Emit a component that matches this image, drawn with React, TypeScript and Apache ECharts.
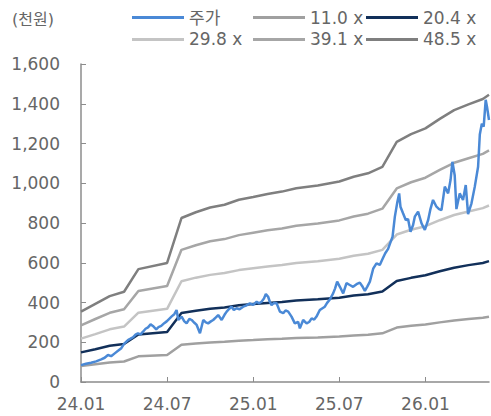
import React, { useEffect, useRef } from "react";
import * as echarts from "echarts";

// x positions are months since 2024-01
const xTickLabels = ["24.01", "24.07", "25.01", "25.07", "26.01"];
const yTickLabels = ["0", "200", "400", "600", "800", "1,000", "1,200", "1,400", "1,600"];

const bandMonths = [0, 1, 2, 3, 4, 6, 7, 8, 9, 10, 11, 12, 13, 14, 15, 16.5, 18, 19, 20, 21, 22, 23, 24, 25, 26, 27, 28, 28.43];
const band11 = [80, 89, 98, 103, 129, 136, 187, 194, 199, 202, 208, 211, 215, 217, 221, 224, 229, 234, 238, 245, 274, 283, 289, 300, 310, 317, 323, 328];
const band20 = [149, 165, 182, 191, 239, 252, 347, 359, 369, 375, 386, 392, 398, 403, 410, 416, 424, 435, 442, 455, 508, 524, 537, 557, 575, 588, 599, 608];
const band29 = [218, 241, 265, 279, 349, 368, 507, 525, 539, 548, 563, 572, 581, 589, 599, 608, 620, 635, 645, 665, 742, 766, 784, 814, 840, 858, 875, 888];
const band39 = [285, 317, 348, 366, 458, 483, 665, 688, 708, 719, 739, 751, 763, 772, 786, 798, 813, 833, 847, 872, 974, 1005, 1028, 1067, 1103, 1126, 1148, 1165];
const band48 = [354, 393, 432, 454, 568, 599, 825, 854, 878, 892, 917, 931, 946, 958, 975, 989, 1009, 1033, 1050, 1082, 1208, 1247, 1276, 1324, 1368, 1397, 1424, 1445];

const priceMonths = [
  0.0, 0.35, 0.7, 1.05, 1.41, 1.65, 1.88, 2.1, 2.35, 2.6, 2.81, 3.0, 3.27, 3.45, 3.62, 3.8, 3.97, 4.15, 4.32, 4.5, 4.67, 4.85, 5.01, 5.24, 5.4, 5.59, 5.8,
  5.97, 6.15, 6.32, 6.5, 6.66, 6.78, 7.01, 7.2, 7.36, 7.55, 7.71, 7.9, 8.06, 8.29, 8.52, 8.7, 8.86, 9.05, 9.21, 9.4, 9.56, 9.8, 10.0, 10.15,
  10.3, 10.49, 10.65, 10.84, 11.05, 11.3, 11.5, 11.77, 12.0, 12.24, 12.4, 12.58, 12.75, 12.88, 13.04, 13.15, 13.28, 13.45, 13.63, 13.86, 14.09,
  14.25, 14.44, 14.67, 14.9, 15.13, 15.25, 15.48, 15.72, 15.9, 16.07, 16.25, 16.41, 16.64, 16.8, 16.99, 17.15, 17.34, 17.57, 17.7, 17.85, 18.04,
  18.27, 18.5, 18.73, 18.96, 19.2, 19.43, 19.6, 19.78, 19.95, 20.13, 20.36, 20.59, 20.82, 21.05, 21.2, 21.4, 21.55, 21.71, 21.87, 22.03, 22.17,
  22.26, 22.44, 22.63, 22.79, 22.96, 23.14, 23.26, 23.49, 23.73, 23.96, 24.19, 24.35, 24.53, 24.77, 24.95, 25.12, 25.35, 25.58, 25.75, 25.88,
  26.04, 26.16, 26.39, 26.62, 26.81, 26.97, 27.21, 27.44, 27.67, 27.79, 27.93, 28.06, 28.2, 28.29, 28.43,
];
const priceValues = [
  85, 92, 97, 104, 114, 122, 136, 130, 144, 158, 170, 192, 211, 218, 225, 238, 245, 240, 253, 268, 275, 290, 282, 265, 276, 282, 296,
  305, 318, 330, 341, 362, 312, 329, 305, 295, 318, 312, 298, 287, 245, 312, 300, 295, 305, 312, 325, 337, 312, 338, 354,
  366, 379, 362, 371, 366, 379, 384, 396, 388, 404, 396, 404, 420, 443, 429, 405, 387, 398, 396, 354, 346,
  360, 354, 329, 295, 303, 270, 312, 295, 302, 320, 314, 329, 362, 370, 379, 398, 415, 446, 470, 505, 479,
  446, 497, 488, 479, 492, 500, 482, 458, 480, 505, 570, 597, 589, 625, 648, 670, 700, 731, 832, 900, 949,
  882, 849, 815, 820, 756, 790, 832, 857, 798, 765, 815, 870, 916, 882, 870, 865, 983, 949, 1016, 1108,
  1040, 870, 949, 916, 991, 845, 899, 983, 1083, 1245, 1300, 1285, 1420, 1385, 1318,
];

const FONT = "'DejaVu Sans', 'Noto Sans CJK KR', sans-serif";
const TXT = "#666666";

export default function App() {
  const ref = useRef<HTMLDivElement>(null);
  useEffect(() => {
    if (!ref.current) return;
    const chart = echarts.init(ref.current, null, { renderer: "svg" });
    const pair = (xs: number[], ys: number[]) => xs.map((x, i) => [x, ys[i]]);
    const mk = (name: string, xs: number[], ys: number[], color: string, width = 2.5, z = 2) => ({
      name,
      type: "line",
      data: pair(xs, ys),
      symbol: "none",
      showSymbol: false,
      z,
      lineStyle: { color, width },
      itemStyle: { color },
    });
    const legendBase = {
      orient: "vertical",
      top: 4,
      icon: "rect",
      itemWidth: 52,
      itemHeight: 3,
      itemGap: 5,
      textStyle: { fontSize: 17, color: TXT, fontFamily: FONT },
    };
    chart.setOption({
      animation: false,
      textStyle: { fontFamily: FONT },
      grid: { left: 81, right: 2, top: 64, bottom: 34, containLabel: false },
      legend: [
        { ...legendBase, left: 127, data: ["주가", "29.8 x"] },
        { ...legendBase, left: 248, data: ["11.0 x", "39.1 x"] },
        { ...legendBase, left: 361, data: ["20.4 x", "48.5 x"] },
      ],
      graphic: [
        {
          type: "text",
          left: 12,
          top: 11,
          style: { text: "(천원)", fontSize: 16, fill: TXT, fontFamily: FONT },
        },
      ],
      xAxis: {
        type: "value",
        min: 0,
        max: 28.43,
        interval: 6,
        axisLine: { lineStyle: { color: "#8c8c8c", width: 1.5 } },
        axisTick: { inside: true, length: 5, lineStyle: { color: "#8c8c8c" } },
        splitLine: { show: false },
        axisLabel: {
          showMaxLabel: false,
          margin: 13,
          fontSize: 17,
          color: TXT,
          fontFamily: FONT,
          formatter: (v: number) => xTickLabels[Math.round(v / 6)] ?? "",
        },
      },
      yAxis: {
        type: "value",
        min: 0,
        max: 1600,
        interval: 200,
        axisLine: { show: true, lineStyle: { color: "#8c8c8c", width: 1.5 } },
        axisTick: { show: true, inside: true, length: 5, lineStyle: { color: "#8c8c8c" } },
        splitLine: { show: false },
        axisLabel: {
          margin: 21,
          fontSize: 17,
          color: TXT,
          fontFamily: FONT,
          formatter: (v: number) => yTickLabels[Math.round(v / 200)] ?? "",
        },
      },
      series: [
        mk("주가", priceMonths, priceValues, "#4a89d6", 2.5, 5),
        mk("11.0 x", bandMonths, band11, "#a0a0a0"),
        mk("20.4 x", bandMonths, band20, "#12305a"),
        mk("29.8 x", bandMonths, band29, "#c4c4c4"),
        mk("39.1 x", bandMonths, band39, "#a6a6a6"),
        mk("48.5 x", bandMonths, band48, "#7f7f7f"),
      ],
    });
    return () => chart.dispose();
  }, []);
  return <div ref={ref} style={{ position: "absolute", left: 0, top: 0, width: 491, height: 416 }} />;
}
